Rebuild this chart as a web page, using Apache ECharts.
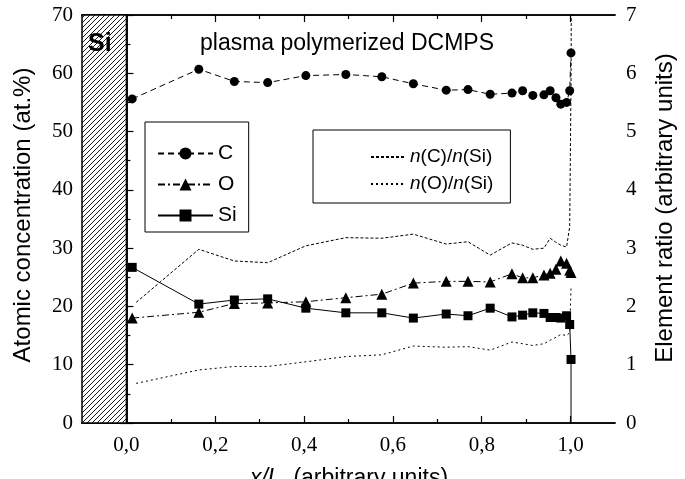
<!DOCTYPE html>
<html>
<head>
<meta charset="utf-8">
<script src="https://cdn.jsdelivr.net/npm/echarts/dist/echarts.min.js"></script>
<style>html,body{margin:0;padding:0;background:#fff;}#chart{width:685px;height:479px;}</style>
</head>
<body>
<div id="chart"></div>
<script>
// ---- data ----
const xPos = [0.013, 0.163, 0.243, 0.318, 0.404, 0.494, 0.575, 0.646, 0.720, 0.769, 0.819, 0.868, 0.892, 0.915, 0.940, 0.954, 0.967, 0.978, 0.991, 0.998, 1.001];
const carbon = [55.6, 60.7, 58.6, 58.4, 59.6, 59.8, 59.4, 58.2, 57.1, 57.2, 56.4, 56.6, 57.0, 56.2, 56.3, 57.0, 55.8, 54.7, 55.0, 57.0, 63.5];
const oxygen = [18.0, 19.0, 20.5, 20.6, 20.8, 21.5, 22.1, 24.0, 24.3, 24.3, 24.2, 25.6, 24.9, 24.9, 25.4, 25.7, 26.4, 27.8, 27.4, 26.2, 25.8];
const silicon = [26.7, 20.4, 21.1, 21.3, 19.7, 18.9, 18.9, 18.0, 18.7, 18.4, 19.7, 18.2, 18.5, 18.9, 18.8, 18.1, 18.1, 18.0, 18.4, 16.9, 10.9];
const siTailX = [1.001, 1.001];
const siTailY = [10.9, 0];
const ratioCX = [0.022, 0.163, 0.243, 0.318, 0.404, 0.494, 0.575, 0.646, 0.720, 0.769, 0.819, 0.868, 0.892, 0.915, 0.940, 0.954, 0.967, 0.978, 0.991, 0.998, 1.001, 1.002];
const ratioCSi = [2.07, 2.98, 2.78, 2.75, 3.04, 3.18, 3.17, 3.24, 3.07, 3.11, 2.88, 3.09, 3.05, 2.98, 3.00, 3.17, 3.10, 3.05, 3.02, 3.37, 5.83, 8.0];
const ratioOX = [0.022, 0.163, 0.243, 0.318, 0.404, 0.494, 0.575, 0.646, 0.720, 0.769, 0.819, 0.868, 0.892, 0.915, 0.940, 0.954, 0.967, 0.978, 0.991, 0.998, 1.001];
const ratioOSi = [0.68, 0.91, 0.97, 0.97, 1.05, 1.14, 1.17, 1.32, 1.30, 1.31, 1.25, 1.39, 1.36, 1.33, 1.36, 1.42, 1.47, 1.52, 1.50, 1.55, 2.33];
const xMajorTicks = [0.0, 0.2, 0.4, 0.6, 0.8, 1.0];
const xMinorTicks = [0.1, 0.3, 0.5, 0.7, 0.9];
const seriesNames = ['C', 'O', 'Si', 'n(C)/n(Si)', 'n(O)/n(Si)'];

// ---- styles ----
const SANS = '"Liberation Sans", Arial, sans-serif';
const SERIF = '"Liberation Serif", "Times New Roman", serif';
const toPairs = (xs, ys) => xs.map((x, i) => [x, ys[i]]);

// hatch pattern
const hatch = document.createElement('canvas');
hatch.width = 5; hatch.height = 5;
const hc = hatch.getContext('2d');
hc.fillStyle = '#fff'; hc.fillRect(0, 0, 5, 5);
hc.strokeStyle = '#000'; hc.lineWidth = 0.9;
hc.beginPath();
hc.moveTo(-1, 6); hc.lineTo(6, -1);
hc.moveTo(-1, 1); hc.lineTo(1, -1);
hc.moveTo(4, 6); hc.lineTo(6, 4);
hc.stroke();

const chart = echarts.init(document.getElementById('chart'), null, {renderer: 'canvas'});

const axisLine = {show: true, lineStyle: {color: '#000', width: 1.5}};
const xCommon = {type: 'value', min: -0.1, max: 1.1, splitLine: {show: false}, axisLine: axisLine};
const fmt = v => v.toFixed(1).replace('.', ',');
const tickLabel = {color: '#000', fontFamily: SERIF, fontSize: 21};

const option = {
  animation: false,
  backgroundColor: '#fff',
  grid: {left: 82, right: 70, top: 15, bottom: 56, containLabel: false},
  xAxis: [
    Object.assign({}, xCommon, {position: 'bottom',
      axisTick: {inside: true, length: 7, customValues: xMajorTicks, lineStyle: {color: '#000', width: 1.2}},
      axisLabel: Object.assign({customValues: xMajorTicks, formatter: fmt, margin: 12}, tickLabel)}),
    Object.assign({}, xCommon, {position: 'bottom',
      axisTick: {inside: true, length: 4, customValues: xMinorTicks, lineStyle: {color: '#000', width: 1.2}},
      axisLabel: {show: false}}),
    Object.assign({}, xCommon, {position: 'top',
      axisTick: {inside: true, length: 7, customValues: xMajorTicks, lineStyle: {color: '#000', width: 1.2}},
      axisLabel: {show: false}}),
    Object.assign({}, xCommon, {position: 'top',
      axisTick: {inside: true, length: 4, customValues: xMinorTicks, lineStyle: {color: '#000', width: 1.2}},
      axisLabel: {show: false}})
  ],
  yAxis: [
    {type: 'value', position: 'left', min: 0, max: 70, interval: 10, splitLine: {show: false},
     axisLine: axisLine,
     axisTick: {inside: true, length: 7, lineStyle: {color: '#000', width: 1.2}},
     minorTick: {show: true, splitNumber: 2, length: 4, lineStyle: {color: '#000', width: 1.2}},
     axisLabel: Object.assign({margin: 9}, tickLabel)},
    {type: 'value', position: 'right', min: 0, max: 7, interval: 1, splitLine: {show: false},
     axisLine: axisLine,
     axisTick: {inside: true, length: 7, lineStyle: {color: '#000', width: 1.2}},
     minorTick: {show: true, splitNumber: 2, length: 4, lineStyle: {color: '#000', width: 1.2}},
     axisLabel: Object.assign({margin: 11}, tickLabel)}
  ],
  legend: [
    {data: seriesNames.slice(0, 3), orient: 'vertical', left: 145, top: 122,
     padding: [21, 12, 6, 12], itemWidth: 55, itemHeight: 15, itemGap: 10,
     borderColor: '#000', borderWidth: 1, backgroundColor: '#fff',
     textStyle: {color: '#000', fontFamily: SANS, fontSize: 21, lineHeight: 20}},
    {data: seriesNames.slice(3), orient: 'vertical', left: 313, top: 130,
     padding: [17, 17, 9, 57], itemWidth: 34, itemHeight: 12, itemGap: 7,
     borderColor: '#000', borderWidth: 1, backgroundColor: '#fff',
     itemStyle: {opacity: 0},
     formatter: name => name.replace(/n\(/g, '{i|n}('),
     textStyle: {color: '#000', fontFamily: SANS, fontSize: 19, lineHeight: 20,
       rich: {i: {fontStyle: 'italic', fontFamily: SANS, fontSize: 19, color: '#000'}}}}
  ],
  series: [
    {name: 'C', type: 'line', data: toPairs(xPos, carbon), symbol: 'circle', symbolSize: 9,
     itemStyle: {color: '#000'}, lineStyle: {color: '#000', width: 1, type: [6, 4]}, z: 5,
     markArea: {silent: true, z: 1,
       itemStyle: {color: {image: hatch, repeat: 'repeat'}, borderColor: '#000', borderWidth: 1.5},
       data: [[{xAxis: -0.1}, {xAxis: 0}]]}},
    {name: 'O', type: 'line', data: toPairs(xPos, oxygen), symbol: 'triangle', symbolSize: 11,
     itemStyle: {color: '#000'}, lineStyle: {color: '#000', width: 1, type: [7, 3, 2, 3]}, z: 5},
    {name: 'Si', type: 'line', data: toPairs(xPos, silicon), symbol: 'rect', symbolSize: 9,
     itemStyle: {color: '#000'}, lineStyle: {color: '#000', width: 1, type: 'solid'}, z: 5},
    {name: 'Si-tail', type: 'line', data: toPairs(siTailX, siTailY), symbol: 'none',
     lineStyle: {color: '#000', width: 1}, z: 4},
    {name: 'n(C)/n(Si)', type: 'line', yAxisIndex: 1, data: toPairs(ratioCX, ratioCSi), symbol: 'none',
     itemStyle: {color: '#000'}, lineStyle: {color: '#000', width: 1, type: [3, 2]}, z: 3},
    {name: 'n(O)/n(Si)', type: 'line', yAxisIndex: 1, data: toPairs(ratioOX, ratioOSi), symbol: 'none',
     itemStyle: {color: '#000'}, lineStyle: {color: '#000', width: 1, type: [2, 3]}, z: 3}
  ],
  graphic: [
    {type: 'text', x: 200, y: 44, z: 10, style: {text: 'plasma polymerized DCMPS', fill: '#000',
      font: '23px ' + SANS, textVerticalAlign: 'middle'}},
    {type: 'text', x: 88, y: 44, z: 10, style: {text: 'Si', fill: '#000',
      font: 'bold 25px ' + SANS, textVerticalAlign: 'middle'}},
    {type: 'text', x: 23, y: 215, rotation: Math.PI / 2, z: 10, style: {text: 'Atomic concentration (at.%)', fill: '#000',
      font: '24px ' + SANS, textAlign: 'center', textVerticalAlign: 'middle'}},
    {type: 'text', x: 665, y: 208, rotation: Math.PI / 2, z: 10, style: {text: 'Element ratio (arbitrary units)', fill: '#000',
      font: '24px ' + SANS, textAlign: 'center', textVerticalAlign: 'middle'}},
    {type: 'text', x: 349, y: 479, z: 10, style: {text: '{i|x/L}  (arbitrary units)', fill: '#000',
      font: '23px ' + SANS, textAlign: 'center', textVerticalAlign: 'middle',
      rich: {i: {fontStyle: 'italic', font: 'italic 23px ' + SANS, fill: '#000'}}}}
  ]
};
chart.setOption(option);
</script>
</body>
</html>
